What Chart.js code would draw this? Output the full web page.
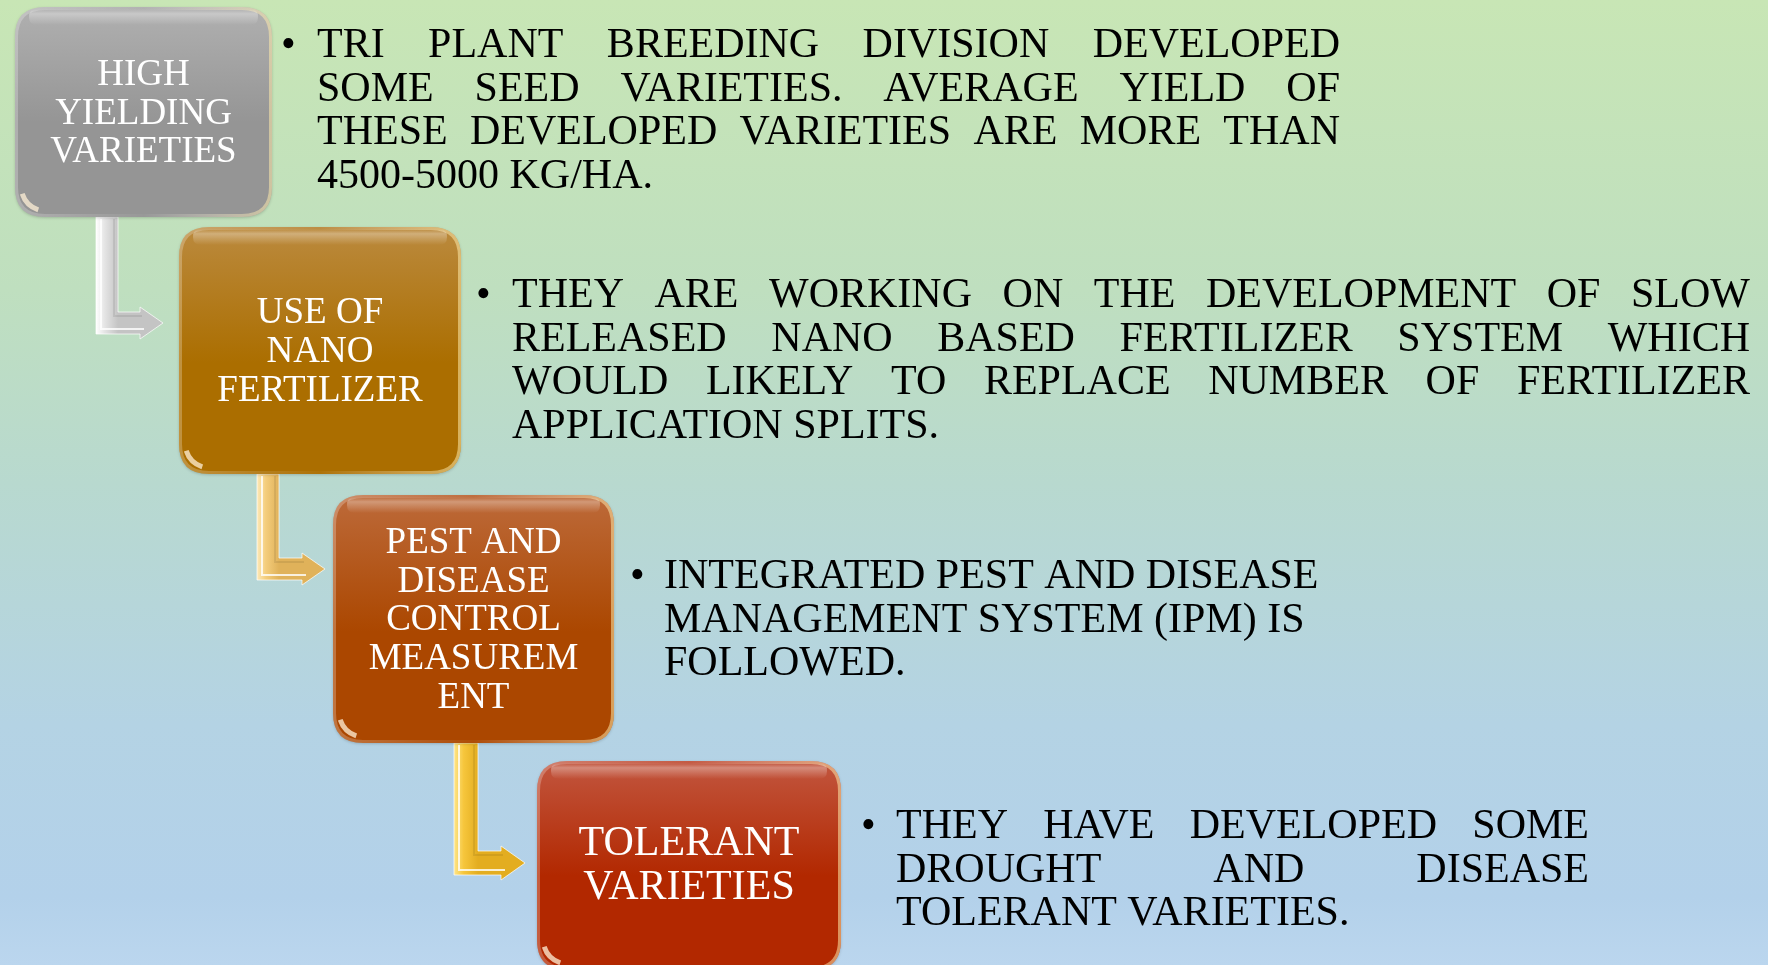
<!DOCTYPE html>
<html>
<head>
<meta charset="utf-8">
<title>Stages</title>
<script src="https://cdn.jsdelivr.net/npm/chart.js@4.4.1/dist/chart.umd.min.js"></script>
<style>
  html, body { margin: 0; padding: 0; overflow: hidden; }
  canvas { display: block; }
</style>
</head>
<body>
<canvas id="flow-chart" width="1768" height="965"></canvas>
<script>
'use strict';

// Stage titles (box labels), one line per entry
var stageTitles = [
  ['HIGH', 'YIELDING', 'VARIETIES'],
  ['USE OF', 'NANO', 'FERTILIZER'],
  ['PEST AND', 'DISEASE', 'CONTROL', 'MEASUREM', 'ENT'],
  ['TOLERANT', 'VARIETIES']
];

// Bullet text beside each stage
var stageNotes = [
  ['TRI PLANT BREEDING DIVISION DEVELOPED',
   'SOME SEED VARIETIES. AVERAGE YIELD OF',
   'THESE DEVELOPED VARIETIES ARE MORE THAN',
   '4500-5000 KG/HA.'],
  ['THEY ARE WORKING ON THE DEVELOPMENT OF SLOW',
   'RELEASED NANO BASED FERTILIZER SYSTEM WHICH',
   'WOULD LIKELY TO REPLACE NUMBER OF FERTILIZER',
   'APPLICATION SPLITS.'],
  ['INTEGRATED PEST AND DISEASE',
   'MANAGEMENT SYSTEM (IPM) IS',
   'FOLLOWED.'],
  ['THEY HAVE DEVELOPED SOME',
   'DROUGHT AND DISEASE',
   'TOLERANT VARIETIES.']
];

// layout (kept apart from the data above)
var boxes = [
  {x0: 15, x1: 272, y0: 7, y1: 217, top: '#b0b0b0', bottom: '#959595', font: 37, base: 85, pitch: 38.5},
  {x0: 179, x1: 461, y0: 227, y1: 474, top: '#bb8a3e', bottom: '#ab6e00', font: 37, base: 323, pitch: 39},
  {x0: 333, x1: 614, y0: 495, y1: 743, top: '#bd6a3a', bottom: '#ab4700', font: 37, base: 553, pitch: 38.7},
  {x0: 537, x1: 841, y0: 761, y1: 970, top: '#c2563f', bottom: '#b22800', font: 42, base: 855, pitch: 44}
];
var notes = [
  {bullet: 281, x: 317, right: 1340, base: 57, justify: true},
  {bullet: 476, x: 512, right: 1750, base: 307, justify: true},
  {bullet: 630, x: 664, right: 1330, base: 588, justify: false},
  {bullet: 861, x: 896, right: 1589, base: 838, justify: true}
];
var arrows = [
  {x: 96, w: 22, y0: 217, yA: 323, head: 140, tip: 163, h: 16, fill: '#e4e4e4', light: '#ffffff', dark: '#c4c4c4'},
  {x: 257, w: 22, y0: 474, yA: 569, head: 302, tip: 325, h: 16, fill: '#f4cd7c', light: '#fde9b8', dark: '#e0b25a'},
  {x: 454, w: 24, y0: 743, yA: 863, head: 501, tip: 525, h: 17, fill: '#f6c63c', light: '#fde58a', dark: '#e3ad20'}
];

var NOTE_FONT = 42;
var NOTE_PITCH = 43.7;

function roundRect(ctx, x, y, w, h, r) {
  ctx.beginPath();
  ctx.moveTo(x + r, y);
  ctx.lineTo(x + w - r, y);
  ctx.quadraticCurveTo(x + w, y, x + w, y + r);
  ctx.lineTo(x + w, y + h - r);
  ctx.quadraticCurveTo(x + w, y + h, x + w - r, y + h);
  ctx.lineTo(x + r, y + h);
  ctx.quadraticCurveTo(x, y + h, x, y + h - r);
  ctx.lineTo(x, y + r);
  ctx.quadraticCurveTo(x, y, x + r, y);
  ctx.closePath();
}

function drawBox(ctx, b, sx, sy, title) {
  var x0 = sx(b.x0), x1 = sx(b.x1), y0 = sy(b.y0), y1 = sy(b.y1);
  var w = x1 - x0, h = y1 - y0, r = 30;
  ctx.save();
  ctx.shadowColor = 'rgba(0,0,0,0.18)';
  ctx.shadowBlur = 3;
  ctx.shadowOffsetY = 1;
  var g = ctx.createLinearGradient(0, y0, 0, y0 + Math.min(h, 250));
  g.addColorStop(0, b.top);
  g.addColorStop(0.55, b.bottom);
  g.addColorStop(1, b.bottom);
  ctx.fillStyle = g;
  roundRect(ctx, x0, y0, w, h, r);
  ctx.fill();
  ctx.restore();

  // glossy rim
  ctx.save();
  roundRect(ctx, x0, y0, w, h, r);
  ctx.clip();
  var rim = ctx.createLinearGradient(x0, 0, x1, 0);
  rim.addColorStop(0, 'rgba(255,255,255,0.25)');
  rim.addColorStop(0.5, 'rgba(255,255,255,0.03)');
  rim.addColorStop(1, 'rgba(255,235,170,0.55)');
  ctx.strokeStyle = rim;
  ctx.lineWidth = 4;
  roundRect(ctx, x0 + 1, y0 + 1, w - 2, h - 2, r - 1);
  ctx.stroke();
  // top shine
  var s = ctx.createLinearGradient(0, y0 + 2, 0, y0 + 18);
  s.addColorStop(0, 'rgba(255,255,255,0.0)');
  s.addColorStop(0.3, 'rgba(255,255,255,0.32)');
  s.addColorStop(1, 'rgba(255,255,255,0)');
  ctx.fillStyle = s;
  roundRect(ctx, x0 + 14, y0 + 2, w - 28, 16, 8);
  ctx.fill();
  // bottom-left glint
  ctx.strokeStyle = 'rgba(255,240,215,0.75)';
  ctx.lineWidth = 5;
  ctx.beginPath();
  ctx.arc(x0 + r + 1, y1 - r - 1, r - 5, Math.PI * 0.6, Math.PI * 0.9);
  ctx.stroke();
  ctx.restore();

  // label
  ctx.save();
  ctx.fillStyle = '#ffffff';
  ctx.font = b.font + 'px "Liberation Serif", "Times New Roman", serif';
  ctx.textAlign = 'center';
  ctx.textBaseline = 'alphabetic';
  var cx = (x0 + x1) / 2;
  for (var i = 0; i < title.length; i++) {
    ctx.fillText(title[i], cx, sy(b.base + i * b.pitch));
  }
  ctx.restore();
}

function drawArrow(ctx, a, sx, sy) {
  var xl = sx(a.x), xr = sx(a.x + a.w), yt = sy(a.y0), ya = sy(a.yA);
  var hw = a.w / 2;
  var pts = [
    [xl, yt], [xr, yt], [xr, ya - hw], [sx(a.head), ya - hw], [sx(a.head), ya - a.h],
    [sx(a.tip), ya], [sx(a.head), ya + a.h], [sx(a.head), ya + hw], [xl, ya + hw]
  ];
  ctx.save();
  ctx.beginPath();
  ctx.moveTo(pts[0][0], pts[0][1]);
  for (var i = 1; i < pts.length; i++) ctx.lineTo(pts[i][0], pts[i][1]);
  ctx.closePath();
  var g = ctx.createLinearGradient(xl, 0, xr, 0);
  g.addColorStop(0, a.light);
  g.addColorStop(0.4, a.fill);
  g.addColorStop(1, a.dark);
  ctx.fillStyle = g;
  ctx.fill();
  ctx.strokeStyle = 'rgba(255,255,255,0.7)';
  ctx.lineWidth = 1;
  ctx.stroke();
  // bevel lines
  ctx.strokeStyle = 'rgba(255,255,255,0.8)';
  ctx.lineWidth = 2;
  ctx.beginPath();
  ctx.moveTo(xl + 5, yt + 2);
  ctx.lineTo(xl + 5, ya + hw - 5);
  ctx.lineTo(sx(a.head) + 4, ya + hw - 5);
  ctx.stroke();
  ctx.strokeStyle = 'rgba(0,0,0,0.08)';
  ctx.beginPath();
  ctx.moveTo(xr - 4, yt + 2);
  ctx.lineTo(xr - 4, ya - hw + 4);
  ctx.lineTo(sx(a.head) + 2, ya - hw + 4);
  ctx.stroke();
  ctx.restore();
}

function drawNoteLine(ctx, text, x, y, width, justify) {
  var natural = ctx.measureText(text).width;
  if (natural > width || !justify) {
    var k = natural > width ? width / natural : 1;
    ctx.save();
    ctx.translate(x, y);
    ctx.scale(k, 1);
    ctx.fillText(text, 0, 0);
    ctx.restore();
    return;
  }
  var words = text.split(' ');
  var wordsW = 0;
  for (var i = 0; i < words.length; i++) wordsW += ctx.measureText(words[i]).width;
  var gap = (width - wordsW) / (words.length - 1);
  var cx = x;
  for (var j = 0; j < words.length; j++) {
    ctx.fillText(words[j], cx, y);
    cx += ctx.measureText(words[j]).width + gap;
  }
}

var flowPlugin = {
  id: 'flowPlugin',
  beforeDraw: function(chart) {
    var ctx = chart.ctx;
    var g = ctx.createLinearGradient(0, 0, 0, chart.height);
    g.addColorStop(0, '#c8e6b5');
    g.addColorStop(0.3, '#bfdfbf');
    g.addColorStop(0.5, '#b8d9cf');
    g.addColorStop(0.75, '#b4d3e4');
    g.addColorStop(0.93, '#b3d1ea');
    g.addColorStop(1, '#bbd6ee');
    ctx.fillStyle = g;
    ctx.fillRect(0, 0, chart.width, chart.height);
  },
  afterDraw: function(chart) {
    var ctx = chart.ctx;
    var xs = chart.scales.x, ys = chart.scales.y;
    var sx = function(v) { return xs.getPixelForValue(v); };
    var sy = function(v) { return ys.getPixelForValue(v); };

    for (var a = 0; a < arrows.length; a++) drawArrow(ctx, arrows[a], sx, sy);
    for (var b = 0; b < stageTitles.length; b++) drawBox(ctx, boxes[b], sx, sy, stageTitles[b]);

    ctx.save();
    ctx.fillStyle = '#000000';
    ctx.font = NOTE_FONT + 'px "Liberation Serif", "Times New Roman", serif';
    ctx.textBaseline = 'alphabetic';
    for (var n = 0; n < stageNotes.length; n++) {
      var nt = notes[n];
      var lines = stageNotes[n];
      ctx.fillText('\u2022', sx(nt.bullet), sy(nt.base));
      for (var l = 0; l < lines.length; l++) {
        var last = l === lines.length - 1;
        drawNoteLine(ctx, lines[l], sx(nt.x), sy(nt.base + l * NOTE_PITCH),
          sx(nt.right) - sx(nt.x), nt.justify && !last);
      }
    }
    ctx.restore();
  }
};

var ctx = document.getElementById('flow-chart').getContext('2d');

var flowChart = new Chart(ctx, {
  type: 'scatter',
  data: {
    datasets: [{ data: [], pointRadius: 0 }]
  },
  options: {
    responsive: false,
    animation: false,
    events: [],
    layout: { padding: 0 },
    plugins: {
      legend: { display: false },
      tooltip: { enabled: false }
    },
    scales: {
      x: { type: 'linear', min: 0, max: 1768, display: false },
      y: { type: 'linear', min: 0, max: 965, reverse: true, display: false }
    }
  },
  plugins: [flowPlugin]
});
</script>
</body>
</html>
